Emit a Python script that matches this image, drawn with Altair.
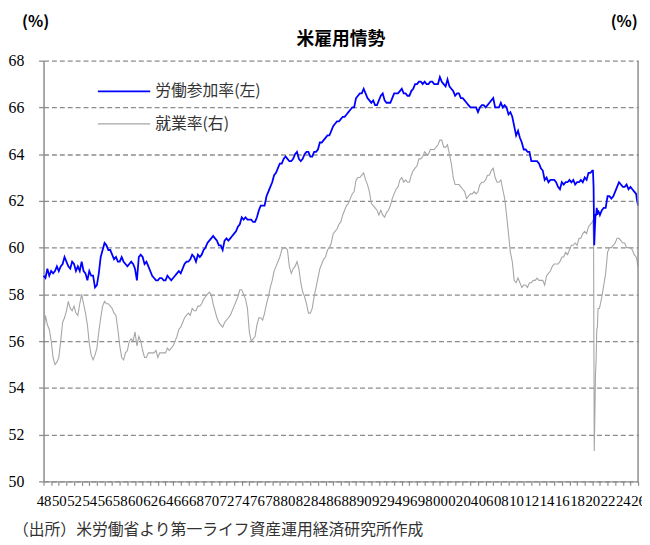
import altair as alt
import pandas as pd

# Quarterly readings (Jan, Apr, Jul, Oct) 1948-2019, monthly 2020, quarterly 2021-2025, plus end points
years_q = list(range(1948, 2020))

lfpr_q = [
    58.8, 58.7, 59.1, 58.8,  59.0, 58.9, 59.0, 59.2,  59.0, 59.2, 59.3, 59.6,  59.4, 59.2, 59.1, 59.4,
    59.3, 59.0, 59.2, 59.0,  59.4, 59.0, 58.9, 58.6,  59.0, 58.8, 58.8, 58.3,  58.4, 58.9, 59.6, 59.9,
    60.2, 60.1, 59.9, 59.9,  59.7, 59.5, 59.6, 59.4,  59.4, 59.6, 59.4, 59.3,  59.2, 59.3, 59.4, 59.3,
    59.1, 58.6, 59.6, 59.7,  59.6, 59.3, 59.4, 59.2,  59.0, 58.8, 58.7, 58.6,  58.6, 58.7, 58.7, 58.6,
    58.6, 58.8, 58.7, 58.6,  58.7, 58.8, 58.9, 59.0,  58.9, 59.1, 59.3, 59.4,  59.4, 59.5, 59.7, 59.6,
    59.4, 59.7, 59.6, 59.7,  59.9, 60.0, 60.2, 60.3,  60.4, 60.5, 60.4, 60.3,  60.1, 60.1, 59.9, 60.3,
    60.4, 60.3, 60.4, 60.5,  60.6, 60.7, 60.9, 61.0,  61.3, 61.2, 61.3, 61.2,  61.2, 61.2, 61.1, 61.1,
    61.3, 61.6, 61.8, 61.8,  61.8, 62.2, 62.4, 62.6,  62.8, 63.1, 63.2, 63.4,  63.6, 63.6, 63.8, 63.9,
    63.8, 63.7, 63.7, 63.8,  64.0, 64.1, 63.8, 63.7,  63.8, 64.0, 64.1, 64.1,  63.9, 63.9, 64.1, 64.1,
    64.2, 64.5, 64.5, 64.6,  64.7, 64.8, 64.8, 65.0,  65.2, 65.3, 65.4, 65.4,  65.5, 65.6, 65.6, 65.7,
    65.8, 65.9, 66.0, 66.0,  66.4, 66.5, 66.6, 66.6,  66.8, 66.6, 66.4, 66.3,  66.2, 66.3, 66.1, 66.1,
    66.3, 66.5, 66.6, 66.3,  66.2, 66.2, 66.2, 66.4,  66.6, 66.6, 66.6, 66.7,  66.8, 66.6, 66.6, 66.5,
    66.5, 66.7, 66.8, 67.0,  67.0, 67.1, 67.1, 67.0,  67.1, 67.0, 67.0, 67.1,  67.1, 67.0, 67.0, 67.0,
    67.3, 67.1, 67.0, 66.9,  67.2, 66.9, 66.8, 66.7,  66.5, 66.6, 66.6, 66.4,  66.4, 66.3, 66.2, 66.1,
    66.0, 66.0, 66.0, 66.0,  65.8, 66.0, 66.1, 66.1,  66.0, 66.1, 66.2, 66.3,  66.4, 66.0, 66.0, 66.0,
    66.2, 66.0, 66.1, 66.0,  65.7, 65.8, 65.6, 65.2,  64.8, 65.0, 64.7, 64.5,  64.2, 64.2, 64.1, 64.1,
    63.7, 63.7, 63.7, 63.7,  63.6, 63.4, 63.3, 62.9,  63.0, 62.8, 62.9, 62.9,  62.9, 62.8, 62.6, 62.5,
    62.8, 62.7, 62.8, 62.8,  62.9, 62.8, 62.9, 62.7,  62.8, 62.8, 62.9, 62.8,  63.0, 62.9, 63.2, 63.2,
]

epop_q = [
    56.2, 57.1, 56.7, 56.5,  56.0, 55.3, 55.0, 55.1,  55.3, 56.0, 56.8, 57.0,  57.3, 57.7, 57.4, 57.3,
    57.5, 57.2, 57.1, 57.6,  58.0, 57.6, 57.2, 56.7,  55.9, 55.4, 55.2, 55.4,  55.7, 56.4, 57.0, 57.5,
    57.7, 57.6, 57.6, 57.5,  57.4, 57.2, 57.1, 56.5,  55.8, 55.3, 55.2, 55.5,  55.6, 56.0, 56.1, 56.0,
    56.4, 55.8, 56.2, 56.0,  55.6, 55.3, 55.3, 55.5,  55.5, 55.5, 55.5, 55.6,  55.3, 55.5, 55.5, 55.5,
    55.5, 55.7, 55.6, 55.7,  55.8, 56.0, 56.2, 56.5,  56.6, 56.8, 57.0, 57.1,  57.2, 57.1, 57.4, 57.3,
    57.3, 57.5, 57.5, 57.6,  57.8, 57.9, 58.0, 58.1,  58.0, 57.6, 57.3, 57.0,  56.8, 56.7, 56.6, 56.8,
    56.9, 57.0, 57.1, 57.3,  57.5, 57.7, 57.9, 58.2,  58.2, 58.0, 57.8, 57.4,  56.4, 56.0, 56.1, 56.2,
    56.7, 57.0, 57.0, 56.9,  57.2, 57.6, 57.9, 58.3,  58.6, 59.0, 59.2, 59.4,  59.6, 59.9, 60.0, 60.0,
    59.9, 59.2, 58.9, 59.1,  59.2, 59.4, 59.1, 58.5,  58.1, 57.9, 57.6, 57.2,  57.2, 57.4, 57.9, 58.3,
    58.7, 59.1, 59.3, 59.5,  59.6, 59.9, 60.0, 60.2,  60.6, 60.7, 60.8, 61.0,  61.1, 61.4, 61.6, 61.8,
    61.9, 62.1, 62.3, 62.4,  62.9, 63.0, 63.0, 63.1,  63.2, 62.9, 62.7, 62.4,  61.9, 61.8, 61.7, 61.6,
    61.4, 61.6, 61.4, 61.3,  61.5, 61.6, 61.8, 62.1,  62.3, 62.5, 62.6, 62.9,  63.0, 62.8, 62.9, 62.8,
    62.8, 63.1, 63.3, 63.4,  63.5, 63.8, 63.8, 63.9,  64.1, 64.0, 64.0, 64.2,  64.2, 64.2, 64.3, 64.4,
    64.6, 64.6, 64.3, 64.3,  64.4, 64.0, 63.6, 63.0,  62.7, 62.7, 62.7, 62.6,  62.5, 62.4, 62.1, 62.2,
    62.3, 62.3, 62.4, 62.3,  62.4, 62.7, 62.8, 62.8,  62.9, 63.1, 63.1, 63.3,  63.4, 63.0, 62.8, 62.8,
    62.9, 62.5, 62.1, 61.4,  60.6, 59.8, 59.4, 58.6,  58.5, 58.7, 58.5, 58.3,  58.4, 58.4, 58.3, 58.5,
    58.5, 58.6, 58.6, 58.7,  58.6, 58.6, 58.6, 58.4,  58.8, 58.9, 59.0, 59.2,  59.3, 59.3, 59.3, 59.4,
    59.6, 59.6, 59.8, 59.7,  59.9, 60.1, 60.1, 60.2,  60.1, 60.4, 60.4, 60.6,  60.7, 60.6, 60.9, 61.0,
]

lfpr_2020 = [63.3, 63.3, 62.6, 60.1, 60.8, 61.4, 61.4, 61.7, 61.4, 61.6, 61.5, 61.5]
epop_2020 = [61.1, 61.2, 60.1, 51.3, 52.8, 54.6, 55.2, 56.5, 56.6, 57.4, 57.4, 57.4]

lfpr_late = [61.4, 61.6, 61.7, 61.7,  62.2, 62.2, 62.1, 62.2,  62.4, 62.6, 62.8, 62.7,
             62.6, 62.6, 62.7, 62.5,  62.6, 62.5, 62.4, 62.3]
epop_late = [57.5, 57.9, 58.4, 58.9,  59.8, 60.0, 60.0, 60.1,  60.2, 60.4, 60.4, 60.3,
             60.2, 60.2, 60.0, 60.0,  60.0, 59.9, 59.7, 59.6]
late_years = list(range(2021, 2026))

end_x = [2025.83, 2026.0]
lfpr_end = [62.1, 61.8]
epop_end = [59.5, 59.2]

# build table
xs = [y + q * 0.25 for y in years_q for q in range(4)]
xs += [2020 + m / 12 for m in range(12)]
xs += [y + q * 0.25 for y in late_years for q in range(4)]
xs += end_x
lf = lfpr_q + lfpr_2020 + lfpr_late + lfpr_end
ep = epop_q + epop_2020 + epop_late + epop_end

df = pd.DataFrame({"x": xs, "lfpr": lf, "epop": ep})

W, H = 602, 426
FONT_JP = "Noto Sans CJK JP"
FONT_NUM = "Liberation Serif"
AXIS_GRAY = "#8c8c8c"

xscale = alt.Scale(domain=[1948, 2026], nice=False, zero=False)
yscale = alt.Scale(domain=[50, 68], nice=False, zero=False)

x_axis = alt.Axis(
    values=list(range(1948, 2027)),
    labelExpr="datum.value % 2 == 0 ? substring(toString(datum.value), 2, 4) : ''",
    labelOverlap=False, labelBound=False, labelFlush=False,
    labelFont=FONT_NUM, labelFontSize=15, labelColor="#000000",
    labelPadding=8, tickSize=4, tickColor=AXIS_GRAY, tickWidth=1.2,
    domainColor=AXIS_GRAY, domainWidth=1.5, grid=False, title=None,
)
y_axis = alt.Axis(
    values=list(range(50, 69, 2)),
    labelFont=FONT_NUM, labelFontSize=16, labelColor="#000000",
    labelPadding=15, tickSize=5, tickColor=AXIS_GRAY, tickWidth=1.3,
    domainColor=AXIS_GRAY, domainWidth=1.5,
    grid=True, gridColor=AXIS_GRAY, gridDash=[5, 3], gridWidth=1.3,
    title=None,
)

base = alt.Chart(df)
gray_line = base.mark_line(color="#A6A6A6", strokeWidth=1.1).encode(
    x=alt.X("x:Q", scale=xscale, axis=x_axis),
    y=alt.Y("epop:Q", scale=yscale, axis=y_axis),
)
blue_line = base.mark_line(color="#0000FF", strokeWidth=1.8).encode(
    x=alt.X("x:Q", scale=xscale, axis=x_axis),
    y=alt.Y("lfpr:Q", scale=yscale, axis=y_axis),
)

one = pd.DataFrame({"k": [0]})

right_border = alt.Chart(one).mark_rule(color=AXIS_GRAY, strokeWidth=1.5).encode(
    x=alt.value(W), y=alt.value(0), y2=alt.value(H)
)

leg_blue = alt.Chart(one).mark_rule(color="#0000FF", strokeWidth=1.8).encode(
    x=alt.value(55), x2=alt.value(108), y=alt.value(31)
)
leg_gray = alt.Chart(one).mark_rule(color="#A6A6A6", strokeWidth=1.1).encode(
    x=alt.value(55), x2=alt.value(108), y=alt.value(64)
)


def label(text, x, y, size, weight="normal", align="left", color="#333333"):
    return alt.Chart(pd.DataFrame({"t": [text]})).mark_text(
        font=FONT_JP, fontSize=size, fontWeight=weight, align=align,
        baseline="middle", color=color,
    ).encode(text="t:N", x=alt.value(x), y=alt.value(y))


texts = [
    label("労働参加率(左)", 113, 31, 16),
    label("就業率(右)", 113, 64, 16),
    label("米雇用情勢", 301, -21, 18, weight="bold", align="center", color="#000000"),
    label("(%)", -8, -39, 16, weight="bold", align="center", color="#000000"),
    label("(%)", 588, -39, 16, weight="bold", align="center", color="#000000"),
    label("（出所）米労働省より第一ライフ資産運用経済研究所作成", -31, 475, 16, color="#333333"),
]

chart = alt.layer(
    gray_line, blue_line, right_border, leg_blue, leg_gray, *texts
).properties(
    width=W, height=H,
    autosize=alt.AutoSizeParams(type="none"),
    padding={"left": 36, "top": 50, "right": 4, "bottom": 56},
).configure(background="white", font=FONT_NUM).configure_view(stroke=None).configure_axis(
    labelFont=FONT_NUM, labelOverlap=False
)

chart.save("out.html", embed_options={"renderer": "svg", "actions": False})
